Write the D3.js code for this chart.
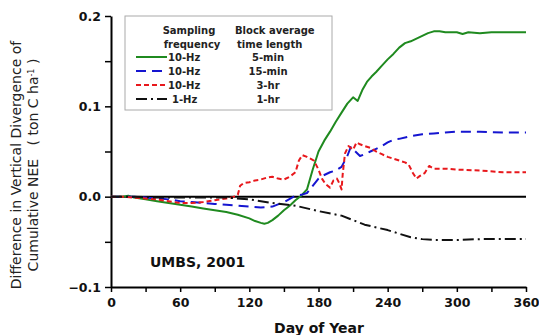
<!DOCTYPE html>
<html><head><meta charset="utf-8">
<script src="https://cdn.jsdelivr.net/npm/d3@7"></script>
<style>body{margin:0;background:#fff}svg{display:block}text{font-family:"DejaVu Sans",sans-serif}</style>
</head><body>
<svg id="c" width="539" height="335"></svg>
<script>
const greenDays=[0,10,15,20,30,40,50,60,70,80,90,100,110,120,125,130,133,136,140,145,150,155,160,165,170,175,180,185,190,195,200,205,210,214,218,222,226,230,235,240,245,250,255,260,265,270,275,280,285,290,300,305,310,320,330,340,350,360];
const greenVals=[0,0,0.001,-0.001,-0.003,-0.005,-0.007,-0.009,-0.011,-0.013,-0.015,-0.017,-0.020,-0.024,-0.027,-0.029,-0.030,-0.029,-0.026,-0.021,-0.015,-0.010,-0.004,0.001,0.008,0.030,0.050,0.062,0.072,0.083,0.093,0.103,0.110,0.106,0.118,0.127,0.133,0.138,0.145,0.152,0.158,0.165,0.170,0.172,0.175,0.178,0.181,0.183,0.183,0.182,0.182,0.180,0.182,0.181,0.182,0.182,0.182,0.182];
const blueDays=[0,10,20,30,40,50,60,70,80,90,100,110,120,130,140,150,160,165,170,175,180,185,190,195,200,205,208,212,216,220,225,230,235,240,245,250,260,270,280,290,300,320,340,360];
const blueVals=[0,0,0,-0.001,-0.002,-0.003,-0.005,-0.006,-0.007,-0.008,-0.009,-0.010,-0.011,-0.012,-0.011,-0.006,0.001,0.002,0.004,0.012,0.020,0.024,0.027,0.029,0.033,0.045,0.055,0.050,0.045,0.047,0.050,0.053,0.056,0.060,0.063,0.064,0.067,0.069,0.070,0.071,0.072,0.072,0.071,0.071];
const redDays=[0,10,20,30,40,50,60,70,80,90,100,105,110,112,115,120,125,130,135,140,145,150,155,160,163,166,170,173,176,180,183,186,190,193,196,198,200,201,203,206,210,213,216,220,225,230,235,240,245,250,255,258,262,265,268,272,276,280,290,300,320,340,360];
const redVals=[0,0,-0.001,-0.002,-0.003,-0.005,-0.007,-0.007,-0.006,-0.004,-0.002,-0.001,0.002,0.012,0.015,0.016,0.018,0.019,0.021,0.022,0.020,0.019,0.022,0.027,0.040,0.046,0.044,0.042,0.040,0.030,0.020,0.014,0.010,0.018,0.020,0.015,0.008,0.025,0.048,0.056,0.052,0.060,0.058,0.056,0.054,0.050,0.047,0.044,0.042,0.040,0.038,0.036,0.026,0.020,0.023,0.026,0.034,0.031,0.031,0.030,0.029,0.027,0.027];
const blackDays=[0,20,40,60,80,100,120,140,160,180,200,220,240,250,260,270,280,290,300,320,340,360];
const blackVals=[0,0,-0.001,-0.001,-0.001,-0.001,-0.003,-0.007,-0.010,-0.016,-0.021,-0.031,-0.037,-0.041,-0.045,-0.047,-0.048,-0.048,-0.048,-0.047,-0.047,-0.047];
const xTicks=[0,60,120,180,240,300,360];
const yTicks=[-0.1,0.0,0.1,0.2];
const legendFreq=["10-Hz","10-Hz","10-Hz","1-Hz"];
const legendBlock=["5-min","15-min","3-hr","1-hr"];

const svg=d3.select("#c");
const x=d3.scaleLinear().domain([0,360]).range([111,526]);
const y=d3.scaleLinear().domain([-0.1,0.2]).range([287,16]);

const series=[
 {d:greenDays,v:greenVals,c:"#1f8a1f",dash:null},
 {d:blueDays,v:blueVals,c:"#1515d0",dash:"10,6"},
 {d:redDays,v:redVals,c:"#e8181c",dash:"5,3"},
 {d:blackDays,v:blackVals,c:"#111",dash:"11,4,2,4"}
];

// axes
const xAx=svg.append("g").attr("transform","translate(0,287)")
 .call(d3.axisBottom(x).tickValues(d3.range(0,361,30)).tickSize(5).tickSizeOuter(0).tickFormat(d=>xTicks.includes(d)?d:""));
const yAx=svg.append("g").attr("transform","translate(111,0)")
 .call(d3.axisLeft(y).tickValues([-0.1,-0.05,0,0.05,0.1,0.15,0.2]).tickSize(6).tickSizeOuter(0).tickFormat(d=>yTicks.some(t=>Math.abs(t-d)<1e-9)?d3.format(".1f")(d):""));
[xAx,yAx].forEach(g=>{g.select(".domain").attr("stroke","#000").attr("stroke-width",2);
 g.selectAll(".tick line").attr("stroke","#000").attr("stroke-width",1.5);
 g.selectAll(".tick text").attr("font-size",12.5).attr("font-weight","bold").attr("fill","#111").attr("font-family","DejaVu Sans, sans-serif");});
xAx.selectAll(".tick text").attr("dy","0.95em");
yAx.selectAll(".tick text").attr("dx","-1");

// zero line
svg.append("line").attr("x1",x(0)).attr("x2",x(360)).attr("y1",y(0)).attr("y2",y(0)).attr("stroke","#000").attr("stroke-width",2);

const line=d3.line().x(p=>x(p[0])).y(p=>y(p[1]));
series.forEach(s=>{
 svg.append("path").datum(s.d.map((d,i)=>[d,s.v[i]])).attr("d",line)
  .attr("fill","none").attr("stroke",s.c).attr("stroke-width",2)
  .attr("stroke-dasharray",s.dash).attr("stroke-linejoin","round");
});

// legend
svg.append("rect").attr("x",125).attr("y",16).attr("width",207).attr("height",94).attr("fill","#fff").attr("stroke","#aaa").attr("stroke-width",1);
const lt=(t,xx,yy,anchor)=>svg.append("text").attr("x",xx).attr("y",yy).attr("text-anchor",anchor||"start").attr("font-size",10).attr("font-weight","bold").attr("fill","#222").text(t);
lt("Sampling",189,34,"middle");lt("frequency",192,48,"middle");
lt("Block average",235,34);lt("time length",237,48);
series.forEach((s,i)=>{
 const yy=57+i*14;
 svg.append("line").attr("x1",136).attr("x2",167).attr("y1",yy).attr("y2",yy).attr("stroke",s.c).attr("stroke-width",2).attr("stroke-dasharray",s.dash);
 lt(legendFreq[i],i==3?172:168,yy+4);
 lt(legendBlock[i],268,yy+4,"middle");
});

svg.append("text").attr("x",150).attr("y",267).attr("font-size",14).attr("font-weight","bold").attr("fill","#111").text("UMBS, 2001");
svg.append("text").attr("x",319).attr("y",333).attr("text-anchor","middle").attr("font-size",14).attr("font-weight","bold").attr("fill","#111").text("Day of Year");
const yl=svg.append("text").attr("transform","translate(21,165) rotate(-90)").attr("text-anchor","middle").attr("font-size",14).attr("fill","#222").style("white-space","pre");
yl.append("tspan").attr("x",0).attr("y",0).text("Difference in Vertical Divergence of");
const t2=yl.append("tspan").attr("x",0).attr("y",17).style("white-space","pre").text("Cumulative NEE   ( ton C ha");
t2.append("tspan").attr("baseline-shift","super").attr("font-size",8).text("-1");
yl.append("tspan").style("white-space","pre").text(" )");
</script>
</body></html>
